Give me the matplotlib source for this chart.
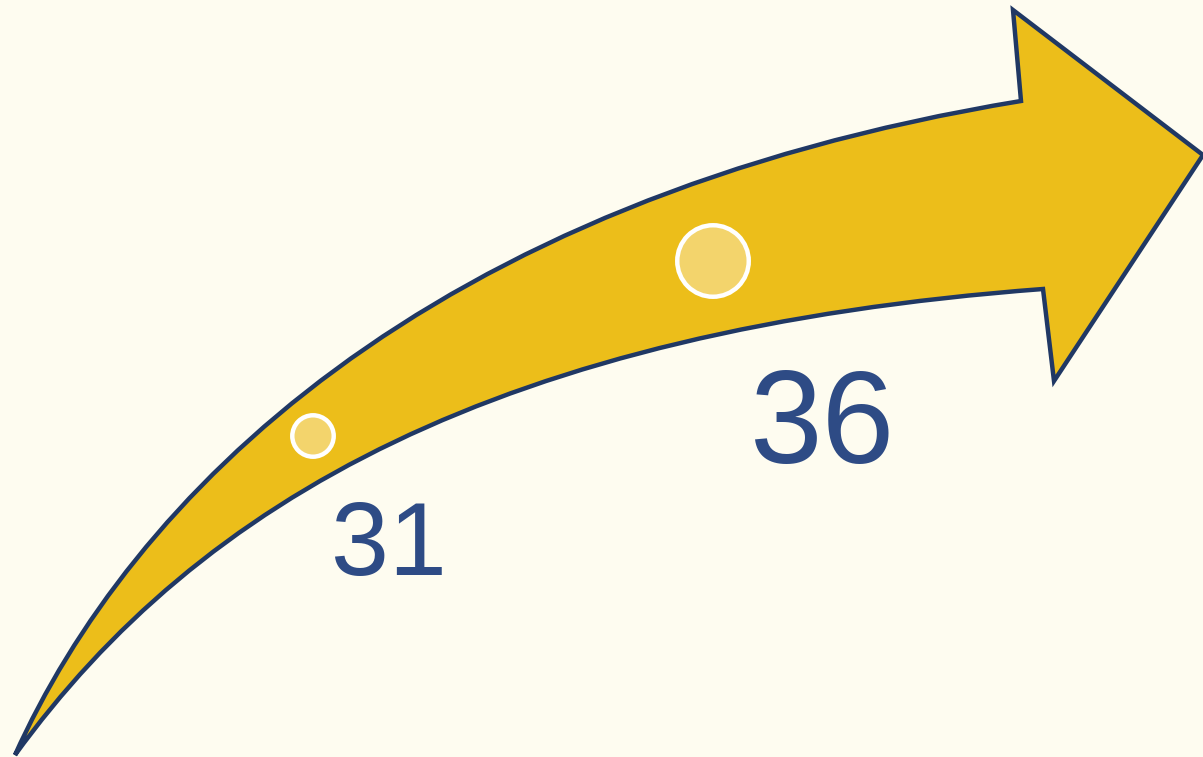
import matplotlib
matplotlib.use("Agg")
import matplotlib.pyplot as plt
from matplotlib.path import Path
from matplotlib.patches import PathPatch
from matplotlib import transforms

# ---- data ----
categories = ["A", "B"]
values = [31, 36]
labels = ["31", "36"]

# ---- styles ----
W, H, DPI = 1203, 757, 100
bg = "#FEFCF0"
arrow_fill = "#ECBE1A"
arrow_edge = "#203864"
dot_fill = "#F3D46C"
text_color = "#2E4B85"
marker_sizes = [890, 2650]
font_sizes = [75, 94]
label_offsets = [(55, -100), (79, -145.5)]

fig = plt.figure(figsize=(W / DPI, H / DPI), dpi=DPI, facecolor=bg)
ax = fig.add_axes([0, 0, 1, 1])
ax.set_facecolor(bg)
# axis mapping: category index -> x, value -> y
ax.set_xlim(-313 / 400, (W - 313) / 400)
ax.set_ylim(31 - (H - 436) / 35, 31 + 436 / 35)
ax.axis("off")

# decorative arrow in pixel coordinates (top-left origin)
pix = transforms.Affine2D().scale(1, -1).translate(0, H) + transforms.IdentityTransform()
verts = [
    (15, 755),
    (130, 500), (420, 200), (1021, 101),
    (1013, 10),
    (1203, 155),
    (1054, 381),
    (1043, 289),
    (500, 330), (200, 500), (15, 755),
    (15, 755),
]
codes = [Path.MOVETO,
         Path.CURVE4, Path.CURVE4, Path.CURVE4,
         Path.LINETO, Path.LINETO, Path.LINETO, Path.LINETO,
         Path.CURVE4, Path.CURVE4, Path.CURVE4,
         Path.CLOSEPOLY]
arrow = PathPatch(Path(verts, codes), facecolor=arrow_fill, edgecolor=arrow_edge,
                  linewidth=3.2, joinstyle="miter", transform=pix, zorder=1)
ax.add_patch(arrow)

xs = list(range(len(values)))
ax.scatter(xs, values, s=marker_sizes, color=dot_fill, edgecolors="white",
           linewidths=3.2, zorder=3)

for x, v, lab, fs, off in zip(xs, values, labels, font_sizes, label_offsets):
    ax.annotate(lab, (x, v), xytext=off, textcoords="offset points",
                ha="center", va="baseline", fontsize=fs, color=text_color,
                family="Liberation Sans", zorder=4)

fig.savefig("out.png", dpi=DPI, facecolor=bg)
